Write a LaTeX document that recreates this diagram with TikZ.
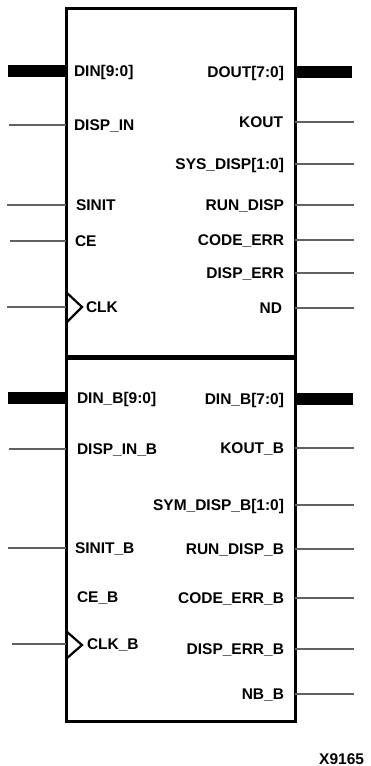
\documentclass[tikz,border=0pt]{standalone}
\usepackage{fontspec}
\setmainfont{Liberation Sans}
\begin{document}
\begin{tikzpicture}[x=1pt,y=-1pt,
  lbl/.style={font=\fontsize{15.5}{18}\bfseries\selectfont, inner sep=0pt, outer sep=0pt},
  lw/.style={lbl, anchor=base west},
  le/.style={lbl, anchor=base east},
  blk/.style={draw, line width=3pt, inner sep=0pt, outer sep=0pt, minimum width=229pt, anchor=north west},
  bus/.style={line width=12pt},
  sig/.style={line width=1.2pt, draw=black!62},
  clkmark/.style={line width=2.2pt, line join=miter}]
\useasboundingbox (0,0) rectangle (370,766);
% blocks
\node[blk, minimum height=349pt] (top) at (66,8) {};
\node[blk, minimum height=364pt] (bot) at (66,357) {};
\draw[line width=5pt] (top.south west) -- (top.south east);

% ---------- top block, left side ----------
\node[lw] (ldin) at (74,76.5) {DIN[9:0]};
\coordinate (pdin) at (8,71);
\draw[bus] (pdin) -- (pdin -| top.west);
\node[lw] (ldispin) at (74,130.5) {DISP\_IN};
\coordinate (pdispin) at (9,125);
\draw[sig] (pdispin) -- (pdispin -| top.west);
\node[lw] (lsinit) at (76,210.5) {SINIT};
\coordinate (psinit) at (7,205);
\draw[sig] (psinit) -- (psinit -| top.west);
\node[lw] (lce) at (75,246.5) {CE};
\coordinate (pce) at (10,241);
\draw[sig] (pce) -- (pce -| top.west);
\node[lw] (lclk) at (86,312.5) {CLK};
\coordinate (pclk) at (7,307);
\draw[sig] (pclk) -- (pclk -| top.west);
\draw[clkmark] (66,292) -- (82,307) -- (66,323);

% ---------- top block, right side ----------
\node[le] (ldout) at (284,77.5) {DOUT[7:0]};
\coordinate (pdout) at (352,72);
\draw[bus] (pdout) -- (pdout -| top.east);
\node[le] (lkout) at (283,127.5) {KOUT};
\coordinate (pkout) at (354,122);
\draw[sig] (pkout) -- (pkout -| top.east);
\node[le] (lsys) at (284,169.5) {SYS\_DISP[1:0]};
\coordinate (psys) at (354,164);
\draw[sig] (psys) -- (psys -| top.east);
\node[le] (lrun) at (284,210.5) {RUN\_DISP};
\coordinate (prun) at (354,205);
\draw[sig] (prun) -- (prun -| top.east);
\node[le] (lcode) at (284,245.5) {CODE\_ERR};
\coordinate (pcode) at (354,240);
\draw[sig] (pcode) -- (pcode -| top.east);
\node[le] (ldisperr) at (284,278.5) {DISP\_ERR};
\coordinate (pdisperr) at (354,273);
\draw[sig] (pdisperr) -- (pdisperr -| top.east);
\node[le] (lnd) at (282,313.5) {ND};
\coordinate (pnd) at (354,308);
\draw[sig] (pnd) -- (pnd -| top.east);

% ---------- bottom block, left side ----------
\node[lw] (ldinb) at (77,403) {DIN\_B[9:0]};
\coordinate (pdinb) at (8,397.5);
\draw[bus] (pdinb) -- (pdinb -| bot.west);
\node[lw] (ldispinb) at (77,454.5) {DISP\_IN\_B};
\coordinate (pdispinb) at (9,449);
\draw[sig] (pdispinb) -- (pdispinb -| bot.west);
\node[lw] (lsinitb) at (75,553.5) {SINIT\_B};
\coordinate (psinitb) at (8,548);
\draw[sig] (psinitb) -- (psinitb -| bot.west);
\node[lw] (lceb) at (77,602.5) {CE\_B};
\node[lw] (lclkb) at (87,649.5) {CLK\_B};
\coordinate (pclkb) at (12,644);
\draw[sig] (pclkb) -- (pclkb -| bot.west);
\draw[clkmark] (66,631) -- (82,645) -- (66,659);

% ---------- bottom block, right side ----------
\node[le] (ldoutb) at (284,404) {DIN\_B[7:0]};
\coordinate (pdoutb) at (353,398.5);
\draw[bus] (pdoutb) -- (pdoutb -| bot.east);
\node[le] (lkoutb) at (284,453.5) {KOUT\_B};
\coordinate (pkoutb) at (354,448);
\draw[sig] (pkoutb) -- (pkoutb -| bot.east);
\node[le] (lsymb) at (284,510.5) {SYM\_DISP\_B[1:0]};
\coordinate (psymb) at (354,505);
\draw[sig] (psymb) -- (psymb -| bot.east);
\node[le] (lrunb) at (284,554.5) {RUN\_DISP\_B};
\coordinate (prunb) at (354,549);
\draw[sig] (prunb) -- (prunb -| bot.east);
\node[le] (lcodeb) at (284,603.5) {CODE\_ERR\_B};
\coordinate (pcodeb) at (354,598);
\draw[sig] (pcodeb) -- (pcodeb -| bot.east);
\node[le] (ldisperrb) at (284,654.5) {DISP\_ERR\_B};
\coordinate (pdisperrb) at (354,649);
\draw[sig] (pdisperrb) -- (pdisperrb -| bot.east);
\node[le] (lnbb) at (284,699.5) {NB\_B};
\coordinate (pnbb) at (354,694);
\draw[sig] (pnbb) -- (pnbb -| bot.east);

% figure id
\node[le] (fig) at (364,764) {X9165};
\end{tikzpicture}
\end{document}
